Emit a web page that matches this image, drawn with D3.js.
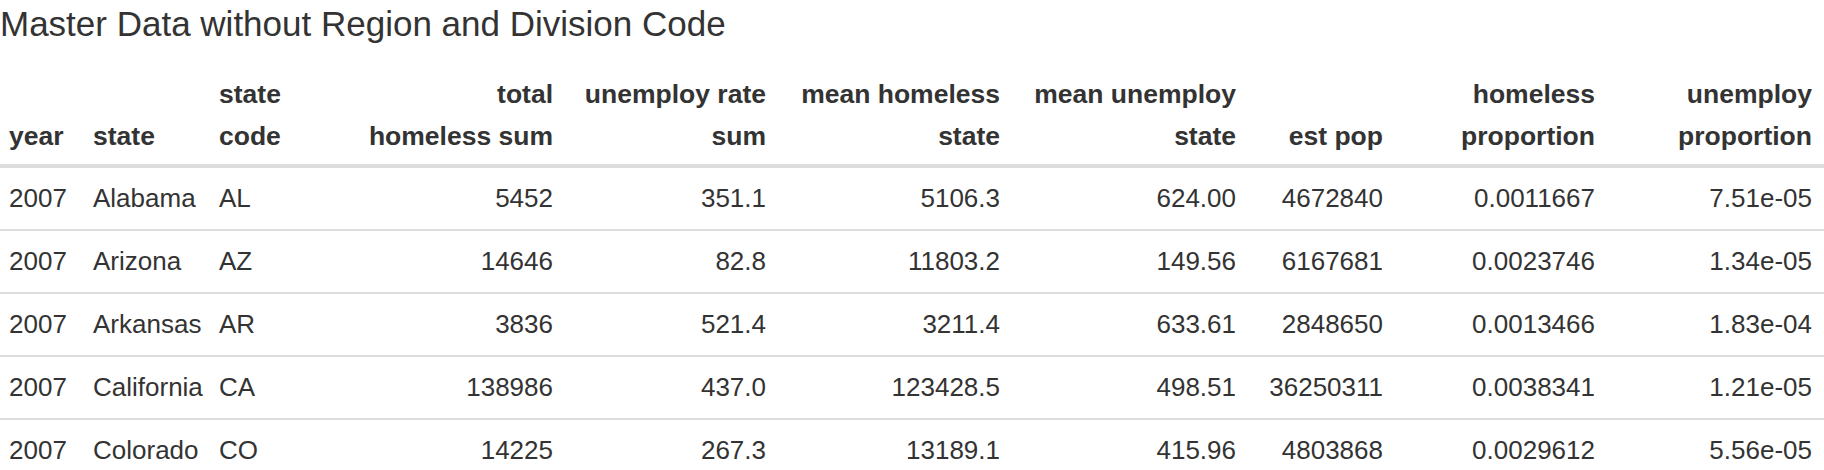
<!DOCTYPE html>
<html><head><meta charset="utf-8">
<script src="https://cdn.jsdelivr.net/npm/d3@7"></script>
<style>body{margin:0;background:#fff}text{font-family:"Liberation Sans",Arial,sans-serif;fill:#333}</style>
</head><body><svg></svg>
<script>
const title = "Master Data without Region and Division Code";
const headers = [["", "year"], ["", "state"], ["state", "code"], ["total", "homeless sum"],
  ["unemploy rate", "sum"], ["mean homeless", "state"], ["mean unemploy", "state"], ["", "est pop"],
  ["homeless", "proportion"], ["unemploy", "proportion"]];
const years = [2007, 2007, 2007, 2007, 2007];
const states = ["Alabama", "Arizona", "Arkansas", "California", "Colorado"];
const codes = ["AL", "AZ", "AR", "CA", "CO"];
const totalHomeless = ["5452", "14646", "3836", "138986", "14225"];
const unemploySum = ["351.1", "82.8", "521.4", "437.0", "267.3"];
const meanHomeless = ["5106.3", "11803.2", "3211.4", "123428.5", "13189.1"];
const meanUnemploy = ["624.00", "149.56", "633.61", "498.51", "415.96"];
const estPop = ["4672840", "6167681", "2848650", "36250311", "4803868"];
const homelessProp = ["0.0011667", "0.0023746", "0.0013466", "0.0038341", "0.0029612"];
const unemployProp = ["7.51e-05", "1.34e-05", "1.83e-04", "1.21e-05", "5.56e-05"];

const W = 1824, H = 470;
const columns = [years, states, codes, totalHomeless, unemploySum, meanHomeless, meanUnemploy, estPop, homelessProp, unemployProp];
// column anchor x and alignment
const colX = [9, 93, 219, 553, 766, 1000, 1236, 1383, 1595, 1812];
const colAnchor = ["start", "start", "start", "end", "end", "end", "end", "end", "end", "end"];

const svg = d3.select("svg").attr("width", W).attr("height", H);

svg.append("text").attr("x", 0).attr("y", 36)
  .style("font-size", "35px").text(title);

const y = d3.scaleBand().domain(d3.range(states.length)).range([167, 167 + 63 * states.length]);

headers.forEach((h, i) => {
  [0, 1].forEach(l => {
    svg.append("text").attr("x", colX[i]).attr("y", l ? 145 : 103)
      .attr("text-anchor", colAnchor[i])
      .style("font-size", "26.5px").style("font-weight", "bold").text(h[l]);
  });
});

svg.append("rect").attr("x", 0).attr("y", 164).attr("width", W).attr("height", 4).attr("fill", "#ddd");

states.forEach((s, r) => {
  if (r > 0) svg.append("rect").attr("x", 0).attr("y", y(r) - 1).attr("width", W).attr("height", 2).attr("fill", "#ddd");
  columns.forEach((col, c) => {
    svg.append("text").attr("x", colX[c]).attr("y", y(r) + 40)
      .attr("text-anchor", colAnchor[c])
      .style("font-size", "26px").text(col[r]);
  });
});
</script></body></html>
